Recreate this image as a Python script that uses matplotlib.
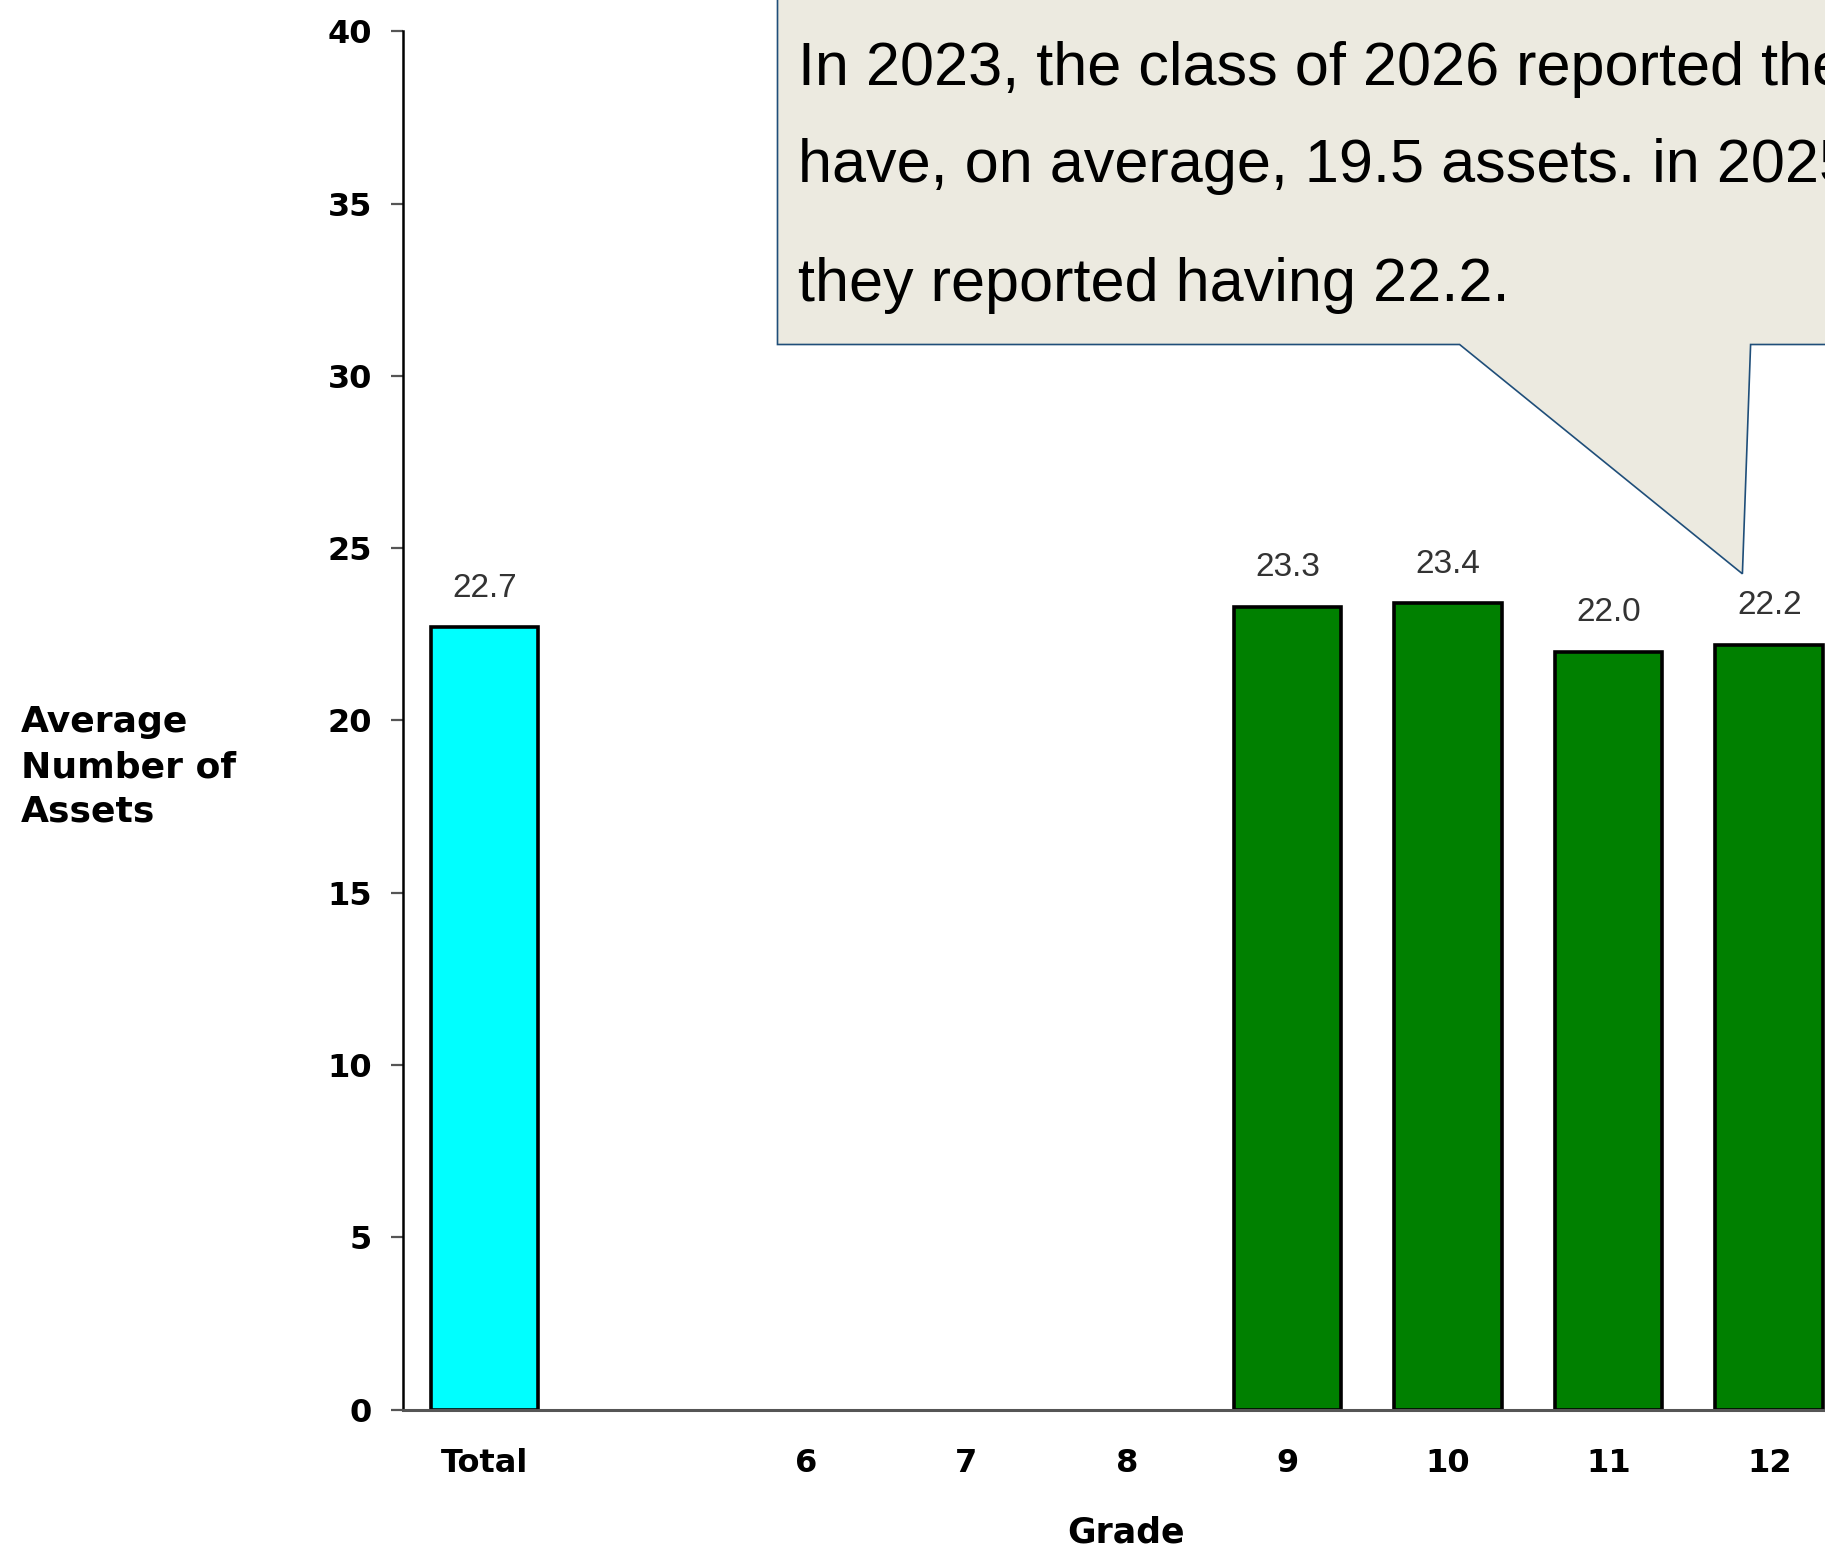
import matplotlib
matplotlib.use("Agg")
import matplotlib.pyplot as plt
from matplotlib.patches import Polygon

# average number of developmental assets by grade
categories = ['Total', '', '6', '7', '8', '9', '10', '11', '12']
values = [22.7, None, None, None, None, 23.3, 23.4, 22.0, 22.2]
bar_colors = ['#00FFFF', None, None, None, None, '#008000', '#008000', '#008000', '#008000']
y_ticks = [0, 5, 10, 15, 20, 25, 30, 35, 40]

callout_lines = ['In 2023, the class of 2026 reported they',
                 'have, on average, 19.5 assets. in 2025,',
                 'they reported having 22.2.']

W, H = 1825, 1547
fig = plt.figure(figsize=(W / 100, H / 100), dpi=100)
ax = fig.add_axes([403 / W, 1 - 1409.5 / H, 1446.6 / W, (1409.5 - 31.4) / H])

tick_font = dict(family='DejaVu Sans', weight='bold', size=23)

for i, v in enumerate(values):
    if v is None:
        continue
    ax.bar(i, v, width=0.67, color=bar_colors[i], edgecolor='black', linewidth=2.6, zorder=3)
    ax.annotate(f'{v:.1f}', (i, v), xytext=(0, 28), textcoords='offset points',
                ha='center', va='center', fontsize=24, color='#333333',
                family='Liberation Sans')

ax.set_xlim(-0.507, 8.5)
ax.set_ylim(0, 40)
ax.set_yticks(y_ticks)
ax.set_yticklabels([str(t) for t in y_ticks], fontdict=tick_font)
ax.set_xticks(range(len(categories)))
ax.set_xticklabels(categories, fontdict=tick_font)

ax.tick_params(axis='y', length=8.5, width=1.6, color='#555555', pad=14)
ax.tick_params(axis='x', length=0, pad=28)

ax.spines['top'].set_visible(False)
ax.spines['right'].set_visible(False)
ax.spines['left'].set_color('black')
ax.spines['left'].set_linewidth(1.8)
ax.spines['bottom'].set_color('#555555')
ax.spines['bottom'].set_linewidth(2.2)
ax.spines['bottom'].set_zorder(4)

# axis titles
fig.text(21 / W, 1 - 767 / H, 'Average\nNumber of\nAssets', ha='left', va='center',
         family='DejaVu Sans', weight='bold', size=26, linespacing=1.4)
ax.text(0.5, -123 / (1409.5 - 31.4), 'Grade', transform=ax.transAxes,
        ha='center', va='center', family='DejaVu Sans', weight='bold', size=25)

# callout box pointing at grade 12
box = [(777.5, -20), (1900, -20), (1900, 344.5), (1750.6, 344.5),
       (1742.4, 573.8), (1459.6, 344.5), (777.5, 344.5)]
box = [(x / W, 1 - y / H) for x, y in box]
fig.patches.append(Polygon(box, closed=True, transform=fig.transFigure,
                           facecolor='#ECEAE0', edgecolor='#1F4E79', linewidth=1.2,
                           zorder=5))
for line, base in zip(callout_lines, [85, 181.6, 301]):
    fig.text(798.5 / W, 1 - base / H, line, ha='left', va='baseline',
             family='Liberation Sans', size=44, color='black', zorder=6)

fig.savefig('out.png', dpi=100)
